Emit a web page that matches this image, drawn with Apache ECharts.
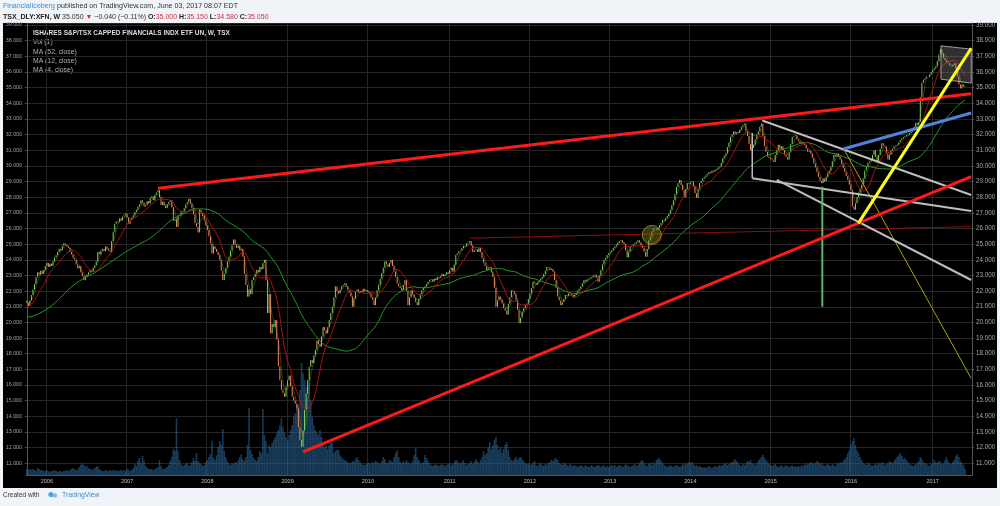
<!DOCTYPE html>
<html><head><meta charset="utf-8">
<script src="https://cdn.jsdelivr.net/npm/echarts@6/dist/echarts.min.js"></script>
<style>html,body{margin:0;padding:0;background:#f0f3f7;}#c{width:1000px;height:506px;}</style>
</head><body><div id="c"></div>
<script>
// ---------- DATA ----------
const firstWeek = '2005-10-07';
// weekly closes before the visible range (feed the moving averages only)
const prerollCloses = [
20.6,20.8,20.7,20.9,21.0,20.8,20.6,20.7,20.5,20.4,20.6,20.5,20.3,
20.1,19.9,19.8,20.0,19.7,19.6,19.8,19.9,19.6,19.5,19.7,19.8,19.9,
19.7,19.6,19.8,20.0,19.9,20.1,20.0,19.8,20.0,20.2,20.1,20.3,20.4,
20.5,20.6,20.4,20.7,20.8,20.9,21.0,20.9,21.1,21.2,21.3,21.4];
// weekly closes, Oct 2005 .. Jun 2017
const closes = [
21.25,21.05,21.4,21.75,22.1,22.45,22.9,23.2,23.05,23.3,
23.1,23.35,23.6,23.8,23.55,23.75,23.6,23.9,24.15,24.3,
24.5,24.7,24.6,24.9,25.05,24.95,24.85,24.75,24.5,24.35,
24.1,24.0,23.7,23.45,23.6,23.2,22.95,22.7,22.95,23.05,
23.2,23.35,23.25,23.5,23.65,23.9,24.5,24.35,24.6,24.7,
24.55,24.85,24.7,24.6,24.5,25.2,25.8,26.3,26.45,26.4,
26.65,26.5,26.75,26.85,26.95,26.7,26.3,26.55,26.7,26.85,
27.05,27.2,27.4,27.55,27.8,27.65,27.4,27.5,27.75,27.6,
27.95,28.05,27.8,28.15,28.3,28.45,28.0,27.5,27.7,27.45,
27.3,27.55,27.7,27.8,27.35,26.5,26.6,26.1,26.85,26.9,
27.1,27.05,27.3,27.55,27.7,27.9,27.6,27.3,26.9,26.35,
26.1,25.75,27.2,27.0,26.8,26.5,26.2,25.9,25.5,25.05,
24.4,24.85,24.7,24.5,24.3,24.0,23.3,22.7,23.1,23.5,
23.9,24.2,24.6,24.95,25.3,25.0,24.75,24.9,24.6,24.7,
24.2,23.1,22.4,21.65,22.1,21.8,22.7,22.9,23.1,23.35,
23.2,23.55,23.4,23.8,24.0,22.7,20.6,21.8,19.3,19.9,
19.7,20.15,18.9,17.2,16.3,15.7,15.5,15.25,15.9,16.3,
16.6,15.9,15.25,15.0,14.8,14.5,13.3,12.5,12.05,13.1,
14.4,15.45,16.3,17.15,17.6,17.4,17.9,18.25,18.85,18.6,
18.45,19.1,19.7,19.5,19.3,19.7,20.15,20.6,21.0,21.6,
22.3,22.0,21.85,22.1,22.3,22.4,22.5,22.3,22.05,21.9,
21.65,21.0,21.5,21.95,22.1,21.9,22.0,21.95,22.15,22.0,
22.05,21.95,21.85,21.6,21.45,21.1,21.6,22.05,22.4,22.8,
23.15,23.5,23.9,23.7,23.55,23.8,24.0,23.6,23.25,22.9,
22.5,22.3,22.2,22.05,22.4,22.7,22.0,21.1,21.6,22.05,
21.8,21.55,21.3,21.1,21.5,21.8,22.05,22.2,22.3,22.45,
22.6,22.7,22.75,22.6,22.8,22.7,22.9,22.85,22.95,23.1,
22.95,23.05,23.2,23.1,23.35,23.5,23.25,23.7,24.3,24.4,
24.55,24.6,24.75,24.9,24.85,25.05,25.1,25.2,24.9,24.5,
24.6,24.65,24.5,24.75,24.5,24.1,23.8,23.6,23.35,23.5,
23.55,23.2,22.9,22.2,21.0,21.4,21.65,21.5,21.2,20.9,
20.75,20.5,21.2,21.6,22.05,22.0,21.85,21.4,20.8,19.95,
20.3,20.7,20.9,21.1,21.2,21.5,21.85,22.2,22.6,22.5,
22.4,22.55,22.7,22.8,22.9,23.1,23.3,23.55,23.5,23.35,
23.4,23.25,22.7,22.2,21.65,21.4,21.1,21.3,21.5,21.75,
21.7,21.85,21.8,21.75,21.6,21.75,21.9,22.05,22.15,22.3,
22.5,22.7,22.6,22.75,22.8,22.85,22.9,23.0,23.05,22.85,
22.6,23.0,23.35,23.7,24.0,24.1,24.3,24.4,24.5,24.6,
24.75,24.85,24.95,25.1,25.2,25.25,25.1,25.0,24.6,24.15,
24.5,24.85,24.9,25.0,25.05,25.15,25.25,25.1,24.9,24.75,
24.5,24.2,24.7,25.25,25.5,25.8,26.0,25.95,25.9,26.05,
26.2,26.35,26.55,26.5,26.65,26.8,26.95,27.2,27.5,27.8,
28.2,28.65,28.9,29.1,28.8,28.45,28.0,28.5,28.9,28.85,
28.95,29.0,28.7,28.25,27.95,28.5,28.9,29.05,29.2,29.3,
29.4,29.5,29.6,29.55,29.7,29.65,29.75,29.8,29.9,29.95,
30.2,30.5,30.65,30.8,31.2,31.5,31.85,32.0,32.2,32.05,
32.15,32.1,32.3,32.5,32.6,32.7,32.2,31.9,31.4,31.0,
31.15,31.35,31.7,32.0,32.2,32.5,32.7,31.9,31.25,30.9,
30.6,30.5,30.4,30.35,30.25,30.7,31.0,31.35,31.1,31.25,
31.0,30.7,30.55,30.4,30.9,31.4,31.85,31.9,31.95,31.7,
31.6,31.45,31.5,31.4,31.35,31.1,30.9,30.95,30.8,30.5,
30.15,29.9,29.6,29.3,29.05,28.9,29.2,29.0,29.3,29.55,
29.7,29.95,30.3,30.7,30.6,30.8,30.6,30.4,30.1,29.85,
29.6,29.35,29.1,28.8,28.45,27.4,27.2,27.6,28.0,28.3,
28.55,28.8,29.2,29.7,29.95,30.2,30.3,30.4,30.7,31.0,
30.6,30.2,30.7,31.1,31.45,31.3,31.25,30.8,30.4,30.7,
31.0,31.1,31.25,31.3,31.35,31.5,31.65,31.75,31.85,31.9,
31.95,32.0,32.1,32.2,32.3,32.5,32.75,32.6,32.8,34.4,
35.3,35.5,35.6,35.7,35.7,35.85,36.0,36.15,36.25,36.35,
36.7,37.1,37.45,37.2,36.9,36.75,36.6,36.55,36.4,36.35,
36.45,36.55,36.2,35.7,35.2,34.95,35.2,35.09,35.05];
// weekly volume (relative units)
const volumes = [
6,5,6,5,6,5,4,7,6,5, 5,4,4,5,4,3,4,4,5,4, 3,4,4,3,4,4,5,4,5,6, 7,6,5,6,8,10,12,10,8,9,
7,6,6,5,7,8,9,6,5,4, 4,5,4,4,5,4,5,4,5,4, 4,5,4,5,4,6,5,4,5,7, 11,9,14,17,12,19,14,9,7,6,
6,6,5,6,7,8,15,9,6,6, 7,8,10,14,18,26,24,57,24,15, 11,9,10,11,12,9,10,13,17,14, 22,14,12,11,9,10,13,15,18,21,
34,17,15,20,28,34,30,46,24,18, 14,11,10,12,11,13,12,15,18,21, 16,14,18,30,67,25,21,17,15,14, 18,24,22,66,40,34,22,30,28,32,
35,38,42,45,50,57,48,42,38,35, 40,45,50,58,62,68,70,85,112,102, 95,88,90,95,75,58,50,45,42,40, 45,38,32,28,30,26,30,35,32,22,
24,25,25,20,18,16,15,14,13,12, 12,14,13,16,18,15,13,11,10,10, 11,12,12,11,13,12,14,13,12,11, 14,18,16,12,12,15,14,13,18,22,
25,18,13,12,14,12,15,13,12,11, 14,20,27,18,15,12,11,13,20,17, 14,12,10,9,10,11,10,9,10,11, 10,9,10,11,12,10,11,13,15,14,
12,11,13,15,12,10,11,12,14,11, 13,16,14,12,15,18,24,20,22,28, 33,26,30,35,38,30,25,28,22,26, 30,33,25,18,15,14,16,18,15,17,
18,16,14,12,11,12,10,11,12,14, 10,9,11,12,10,9,11,10,12,13, 15,14,16,17,15,12,11,10,12,11, 10,9,11,10,9,10,9,8,9,10,
9,8,10,9,8,9,10,9,8,9, 10,9,8,9,10,8,9,8,9,10, 9,10,8,9,10,9,8,9,11,10, 9,8,9,10,11,9,10,12,14,15,
12,10,9,11,12,10,13,11,15,16, 17,14,12,10,9,8,9,10,9,8, 9,10,9,8,9,11,10,12,11,13, 12,13,11,9,10,8,9,8,7,8,
7,8,9,8,7,8,9,8,9,10, 9,10,11,12,10,11,12,13,14,16, 14,12,10,9,11,10,12,14,13,15, 12,11,10,12,14,16,18,20,17,15,
13,11,10,9,10,11,9,8,9,10, 8,9,10,9,8,9,10,8,9,8, 9,8,10,9,11,10,12,11,13,12, 11,12,14,13,11,12,10,9,10,11,
10,9,11,10,9,12,11,13,12,14, 16,18,22,25,30,34,37,30,25,22, 18,15,12,11,10,12,11,10,9,10, 11,10,12,11,13,12,10,11,12,14,
13,12,14,16,18,20,22,19,16,17, 15,13,11,10,9,10,11,12,14,18, 16,13,12,11,10,9,11,12,15,13, 12,14,13,11,12,15,18,14,12,11,
13,15,19,21,18,14,12,10,6];
const lastClose = 35.05;
// drawings: [week index, price]
const redTrendTop = [[85, 28.57], [612, 34.61]];
const redTrendBottom = [[179, 11.73], [612, 29.31]];
const redLevelThin = [[287, 25.38], [612, 26.12]];
const grayChannelTop = [[476.6, 32.9], [612, 28.14]];
const grayChannelMid = [[470.1, 29.21], [612, 27.12]];
const grayChannelLow = [[486, 29.1], [612, 22.71]];
const grayChannelEdge = [[470.1, 32.1], [470.1, 29.21]];
const blueTrend = [[529.1, 31.08], [612, 33.38]];
const yellowTrend = [[538.8, 26.33], [612, 37.52]];
const yellowThinTrend = [[529.1, 31.13], [612, 16.42]];
const greenMarker = [[515.5, 28.67], [515.5, 21.0]];
const circleMarker = [[405, 25.59]];
const boxCorners = [[592.4, 37.67], [612, 37.46], [612, 35.29], [592.4, 35.54]];
const maPeriods = [52, 12, 4];

// ---------- BUILD ----------
if (closes.length !== 609) throw new Error('closes ' + closes.length);
if (volumes.length !== 609) throw new Error('volumes ' + volumes.length);
const extraSlots = 4;
const N = closes.length + extraSlots;
const dates = [];
const d0 = Date.parse(firstWeek + 'T00:00:00Z');
for (let i = 0; i < N; i++) {
  dates.push(i < closes.length ? new Date(d0 + i * 7 * 864e5).toISOString().slice(0, 10) : 'x' + i);
}
const yearStarts = new Set();
for (let i = 1; i < closes.length; i++) if (dates[i].slice(0, 4) !== dates[i - 1].slice(0, 4)) yearStarts.add(i);

const all = prerollCloses.concat(closes);
const P = prerollCloses.length;
const candles = closes.map((c, i) => {
  const o = all[P + i - 1];
  return [o, c, Math.min(o, c), Math.max(o, c)];
});
function ma(n) {
  return closes.map((c, i) => {
    let s = 0; for (let k = 0; k < n; k++) s += all[P + i - k];
    return +(s / n).toFixed(3);
  });
}
const ma52 = ma(maPeriods[0]), ma12 = ma(maPeriods[1]), ma4 = ma(maPeriods[2]);

const YMIN = 10.25, YMAX = 39.13;
const fmt = v => Math.abs(v - Math.round(v)) < 1e-6 ? v.toFixed(3) : '';
const FONT = 'Liberation Sans';
const f = (s, b) => (b ? 'bold ' : '') + s + 'px "' + FONT + '"';

function seg(data, color, width, z) {
  return { type: 'line', xAxisIndex: 1, yAxisIndex: 0, data: data, symbol: 'none', silent: true,
    lineStyle: { color: color, width: width }, z: z || 6, animation: false };
}

const chart = echarts.init(document.getElementById('c'), null, { renderer: 'canvas' });
chart.setOption({
  animation: false,
  backgroundColor: '#f0f3f7',
  grid: { left: 26, right: 28, top: 23, bottom: 31 },
  xAxis: [
    { type: 'category', data: dates, boundaryGap: true,
      axisLine: { show: true, lineStyle: { color: '#555' } },
      axisTick: { show: false },
      axisLabel: { interval: i => yearStarts.has(i), formatter: v => v.slice(0, 4), color: '#c0c0c0', fontSize: 5.5, margin: 3, fontFamily: FONT },
      splitLine: { show: true, interval: i => yearStarts.has(i), lineStyle: { color: '#262626', width: 1 } } },
    { type: 'value', min: -0.5, max: N - 0.5, show: false }
  ],
  yAxis: [
    { type: 'value', position: 'left', min: YMIN, max: YMAX, minInterval: 1, maxInterval: 1,
      axisLine: { show: true, lineStyle: { color: '#555' } },
      axisTick: { show: true, length: 2, lineStyle: { color: '#555' } },
      axisLabel: { formatter: fmt, color: '#a0a0a0', fontSize: 5.3, margin: 4, showMinLabel: false, showMaxLabel: false, fontFamily: FONT },
      splitLine: { show: true, lineStyle: { color: '#262626', width: 1 } } },
    { type: 'value', position: 'right', min: YMIN, max: YMAX, minInterval: 1, maxInterval: 1,
      axisLine: { show: true, lineStyle: { color: '#555' } },
      axisTick: { show: true, length: 2, lineStyle: { color: '#555' } },
      axisLabel: { formatter: fmt, color: '#a8a8a8', fontSize: 6.3, margin: 4, showMinLabel: false, showMaxLabel: false, fontFamily: FONT },
      splitLine: { show: false } },
    { type: 'value', min: 0, max: 452, show: false, splitLine: { show: false } }
  ],
  series: [
    { type: 'bar', xAxisIndex: 0, yAxisIndex: 2, data: volumes, barWidth: '100%', barGap: '-100%',
      itemStyle: { color: 'rgba(40,100,150,0.6)' }, z: 1, silent: true },
    { type: 'candlestick', xAxisIndex: 0, yAxisIndex: 0, data: candles, barWidth: '70%', z: 3,
      itemStyle: { color: '#79d865', color0: '#f08868', borderColor: '#79d865', borderColor0: '#f08868', borderWidth: 1 },
      markLine: { silent: true, symbol: 'none', lineStyle: { opacity: 0 },
        data: [
          { yAxis: lastClose, label: { show: true, position: 'end', distance: 1, formatter: lastClose.toFixed(3), color: '#fff', backgroundColor: '#3fae4f', padding: [2, 3, 1, 3], fontSize: 6.3, fontFamily: FONT } },
          { yAxis: lastClose, label: { show: true, position: 'start', distance: 1, formatter: lastClose.toFixed(3), color: '#fff', backgroundColor: '#3fae4f', padding: [2, 2, 1, 3], fontSize: 5.3, fontFamily: FONT } }
        ] } },
    { type: 'line', xAxisIndex: 0, yAxisIndex: 0, data: ma52, symbol: 'none', lineStyle: { color: '#1f9a22', width: 1 }, z: 4, silent: true },
    { type: 'line', xAxisIndex: 0, yAxisIndex: 0, data: ma12, symbol: 'none', lineStyle: { color: '#b01212', width: 1 }, z: 4, silent: true },
    { type: 'line', xAxisIndex: 0, yAxisIndex: 0, data: ma4, symbol: 'none', lineStyle: { color: '#8a8a10', width: 1, opacity: 0.45 }, z: 2, silent: true },
    seg(redLevelThin, '#8c0f0f', 1),
    seg(yellowThinTrend, '#b6a400', 1),
    seg(grayChannelTop, '#bdbdbd', 2),
    seg(grayChannelMid, '#bdbdbd', 2),
    seg(grayChannelLow, '#bdbdbd', 2),
    seg(grayChannelEdge, '#bdbdbd', 1.5),
    seg(greenMarker, '#5cb85c', 2),
    seg(blueTrend, '#4f82d8', 3),
    seg(redTrendTop, '#ff1a1a', 3, 7),
    seg(redTrendBottom, '#ff1a1a', 3, 7),
    seg(yellowTrend, '#ffff20', 3, 7),
    { type: 'scatter', xAxisIndex: 1, yAxisIndex: 0, data: circleMarker, symbolSize: 19, silent: true, z: 6,
      itemStyle: { color: 'rgba(130,130,30,0.55)', borderColor: 'rgba(170,170,50,0.9)', borderWidth: 1 } },
    { type: 'custom', xAxisIndex: 1, yAxisIndex: 0, data: [0], silent: true, z: 6,
      renderItem: (params, api) => ({ type: 'polygon',
        shape: { points: boxCorners.map(p => api.coord(p)) },
        style: { fill: 'rgba(150,150,150,0.33)', stroke: 'rgba(190,190,190,0.8)', lineWidth: 1 } }) }
  ],
  graphic: [
    { type: 'rect', z: -100, silent: true, shape: { x: 3, y: 23, width: 994, height: 465 }, style: { fill: '#000' } },
    { type: 'text', left: 3, top: 2.5, silent: true, style: {
        text: '{b|FinancialIceberg} published on TradingView.com, June 03, 2017 08:07 EDT',
        fill: '#333', font: f(7.1),
        rich: { b: { fill: '#3b8fd4', color: '#3b8fd4', font: f(7.1) } } } },
    { type: 'text', left: 3, top: 13.5, silent: true, style: {
        text: '{k|TSX_DLY:XFN, W} 35.050 {r|▼} −0.040 (−0.11%) {k|O:}{r|35.000} {k|H:}{r|35.150} {k|L:}{r|34.580} {k|C:}{r|35.050}',
        fill: '#333', font: f(7),
        rich: { k: { fill: '#222', font: f(7, true) }, r: { fill: '#c8323c', color: '#c8323c', font: f(7) } } } },
    { type: 'text', left: 33, top: 29.5, silent: true, style: { text: 'ISHARES S&P/TSX CAPPED FINANCIALS INDX ETF UN, W, TSX', fill: '#dedede', font: f(6.5, true) } },
    { type: 'text', left: 33, top: 38.8, silent: true, style: { text: 'Vol (1)', fill: '#b0b0b0', font: f(6.8) } },
    { type: 'text', left: 33, top: 48.2, silent: true, style: { text: 'MA (52, close)', fill: '#b0b0b0', font: f(6.8) } },
    { type: 'text', left: 33, top: 57.5, silent: true, style: { text: 'MA (12, close)', fill: '#b0b0b0', font: f(6.8) } },
    { type: 'text', left: 33, top: 67, silent: true, style: { text: 'MA (4, close)', fill: '#b0b0b0', font: f(6.8) } },
    { type: 'text', left: 3, top: 491.5, silent: true, style: { text: 'Created with', fill: '#333', font: f(6.5) } },
    { type: 'circle', silent: true, shape: { cx: 51, cy: 494.5, r: 2.6 }, style: { fill: '#4aa3df' } },
    { type: 'circle', silent: true, shape: { cx: 55, cy: 495.5, r: 2.2 }, style: { fill: '#7cc0ec' } },
    { type: 'text', left: 62, top: 491.5, silent: true, style: { text: 'TradingView', fill: '#3b8fd4', font: f(6.8) } }
  ]
});
</script></body></html>
